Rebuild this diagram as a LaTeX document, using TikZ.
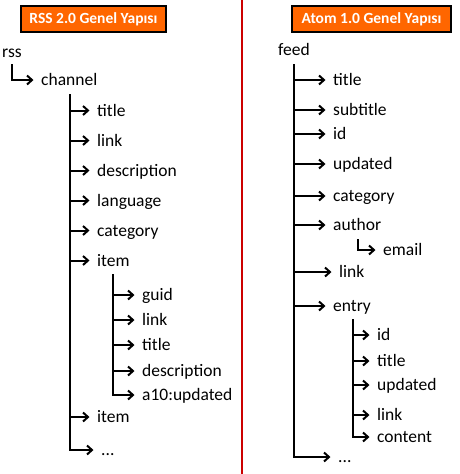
\documentclass[tikz,border=0pt]{standalone}
\usepackage{fontspec}
\setmainfont{Carlito}
\usetikzlibrary{arrows.meta}
\definecolor{headorange}{RGB}{255,102,0}
\definecolor{divred}{RGB}{204,0,0}

\tikzset{
    lbl/.style={anchor=west, inner xsep=0pt, inner ysep=0pt,
        text height=13pt, text depth=2pt, font=\fontsize{17.5}{20}\selectfont},
    head/.style={draw=black, line width=1.4pt, fill=headorange, text=white,
        inner sep=0pt, minimum height=26pt, font=\fontsize{15.5}{18}\selectfont\bfseries},
    link/.style={line width=2pt, -{Straight Barb[length=5pt, width=9pt, line width=2pt]},
        shorten >=7.5pt}
}

\begin{document}
\begin{tikzpicture}[x=1pt, y=-1pt]

    \useasboundingbox (0,0) rectangle (459,474);

    % ── Headers ───────────────────────────────────────────────────────────────
    \node[head, minimum width=145pt] (rsshead) at (93.4,19) {RSS 2.0 Genel Yapısı};
    \node[head, minimum width=159pt] (atomhead) at (371.5,19) {Atom 1.0 Genel Yapısı};

    % ── Divider ───────────────────────────────────────────────────────────────
    \draw[divred, line width=2pt] (242,0) -- (242,474);

    % ── RSS tree ──────────────────────────────────────────────────────────────
    \node[lbl] (rss) at (2,52) {rss};
    \node[lbl] (channel) at (41,80) {channel};
    \coordinate (rsstrunk) at (12,64);
    \draw[link] (rsstrunk) |- (channel);

    \coordinate (chantrunk) at (70,94);
    \foreach \name/\txt/\y in {ctitle/title/110.5, clink/link/140.5,
        cdesc/description/170.5, clang/language/200.5,
        ccat/category/230.5, citem/item/260.5, citemb/item/417}
    {
        \node[lbl] (\name) at (97,\y) {\txt};
        \draw[link] (chantrunk) |- (\name);
    }
    \node[lbl] (cdots) at (101,450) {...};
    \draw[link] (chantrunk) |- (cdots);

    % item children
    \coordinate (itemtrunk) at (113,274);
    \foreach \name/\txt/\y in {iguid/guid/295, ilink/link/320, ititle/title/345,
        idesc/description/371, iupd/a10:updated/395}
    {
        \node[lbl] (\name) at (142,\y) {\txt};
        \draw[link] (itemtrunk) |- (\name);
    }

    % ── Atom tree ─────────────────────────────────────────────────────────────
    \node[lbl] (feed) at (278,50) {feed};
    \coordinate (feedtrunk) at (294,64);
    \foreach \name/\txt/\y in {ftitle/title/80, fsub/subtitle/110, fid/id/134,
        fupd/updated/164, fcat/category/196, fauth/author/225, fentry/entry/306}
    {
        \node[lbl] (\name) at (333,\y) {\txt};
        \draw[link] (feedtrunk) |- (\name);
    }
    \node[lbl] (flink) at (339,272) {link};
    \draw[link] (feedtrunk) |- (flink);
    \node[lbl] (fdots) at (338,457) {...};
    \draw[link] (feedtrunk) |- (fdots);

    % author child
    \node[lbl] (email) at (383,250) {email};
    \coordinate (authtrunk) at (358,239);
    \draw[link] (authtrunk) |- (email);

    % entry children
    \coordinate (entrytrunk) at (353,319);
    \foreach \name/\txt/\y in {eid/id/335, etitle/title/361, eupd/updated/385,
        elink/link/415, econt/content/437}
    {
        \node[lbl] (\name) at (377,\y) {\txt};
        \draw[link] (entrytrunk) |- (\name);
    }

\end{tikzpicture}
\end{document}
